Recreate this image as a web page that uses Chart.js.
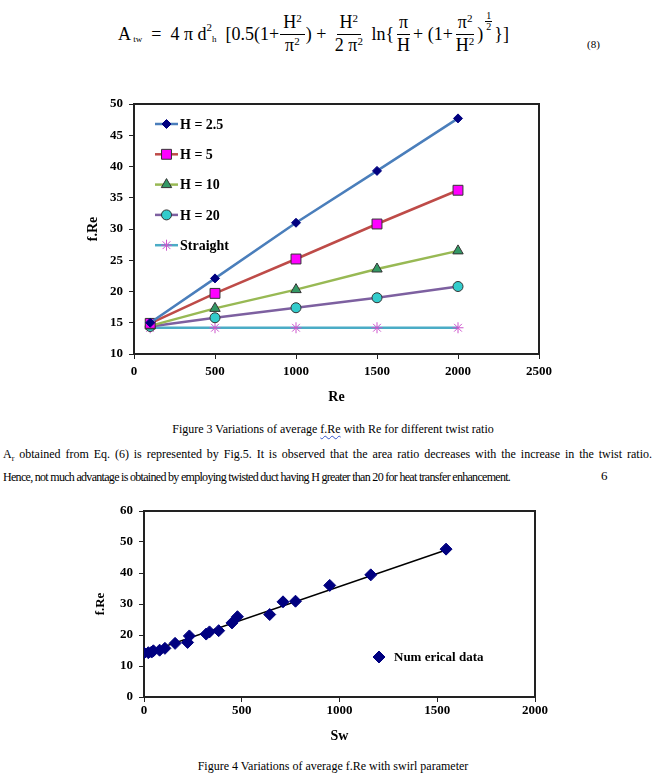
<!DOCTYPE html>
<html>
<head>
<meta charset="utf-8">
<script src="https://cdn.jsdelivr.net/npm/chart.js"></script>
<style>
  html, body { margin: 0; padding: 0; background: #fff; }
  body { width: 654px; height: 781px; position: relative; overflow: hidden;
         font-family: "Liberation Serif", "Times New Roman", serif; color: #000; }
  .abs { position: absolute; }

  /* equation (8) */
  #eq { left: 118px; top: 8px; height: 52px; display: flex; align-items: center;
        font-size: 18px; white-space: pre; }
  .frac { display: inline-flex; flex-direction: column; align-items: center; line-height: 1.1; margin: 0 1px; }
  .frac .num { border-bottom: 1px solid #000; padding: 0 3px 1px; }
  .frac .den { padding: 1px 3px 0; }
  .frac.tight .num, .frac.tight .den { padding-left: 2px; padding-right: 2px; }
  .sup { font-size: 11px; position: relative; top: -7px; }
  .sub { font-size: 9px; position: relative; top: 5px; }
  .half { display: inline-flex; flex-direction: column; align-items: center; font-size: 10px;
          line-height: 1; position: relative; top: -13px; margin: 0 2px; }
  .half .num { border-bottom: 1px solid #000; padding: 0 1px; }
  #eqno { left: 587px; top: 38px; font-size: 11px; }

  .caption { font-size: 12px; white-space: nowrap; }
  #cap3 { left: 0; width: 666px; text-align: center; top: 422px; }
  #cap4 { left: 0; width: 666px; text-align: center; top: 759px; }
  .wavy { text-decoration: underline wavy #3355cc; text-decoration-thickness: 1px; text-underline-offset: 2px; }

  #para { left: 3px; top: 445px; width: 649px; font-size: 12px; line-height: 18px; }
  #para .l1 { text-align: justify; text-align-last: justify; white-space: nowrap; letter-spacing: 0; }
  #para .l2 { letter-spacing: -0.7px; white-space: nowrap; }
  #pageno { left: 601px; top: 468px; font-size: 13px; color: #000; }

  canvas { position: absolute; left: 0; }
  #fig3 { top: 90px; }
  #fig4 { top: 495px; }
</style>
</head>
<body>

<div id="eq" class="abs"><span>A</span><span class="sub"> tw</span><span>  =  4 π d</span><span class="sup">2</span><span class="sub">h</span><span>  [0.5(1+</span><span class="frac"><span class="num">H<span class="sup" style="top:-6px">2</span></span><span class="den">π<span class="sup" style="top:-6px">2</span></span></span><span>) + </span><span class="frac"><span class="num">H<span class="sup" style="top:-6px">2</span></span><span class="den">2 π<span class="sup" style="top:-6px">2</span></span></span><span> ln{</span><span class="frac tight"><span class="num">π</span><span class="den">H</span></span><span>+ (1+</span><span class="frac tight"><span class="num">π<span class="sup" style="top:-6px">2</span></span><span class="den">H<span class="sup" style="top:-6px">2</span></span></span><span>)</span><span class="half"><span class="num">1</span><span>2</span></span><span>}]</span></div>
<div id="eqno" class="abs">(8)</div>

<canvas id="fig3" width="654" height="330"></canvas>

<div id="cap3" class="abs caption">Figure 3 Variations of average <span class="wavy">f.Re</span> with Re for different twist ratio</div>

<div id="para" class="abs">
  <div class="l1">A<sub style="font-size:8px">r</sub> obtained from Eq. (6) is represented by Fig.5. It is observed that the area ratio decreases with the increase in the twist ratio.</div>
  <div class="l2">Hence, not much advantage is obtained by employing twisted duct having H greater than 20 for heat transfer enhancement.</div>
</div>
<div id="pageno" class="abs">6</div>

<canvas id="fig4" width="654" height="255"></canvas>

<div id="cap4" class="abs caption">Figure 4 Variations of average f.Re with swirl parameter</div>

<script>
// ===== Figure 3 data : f.Re vs Re =====
const reValues = [100, 500, 1000, 1500, 2000];
const fReH25 = [15.0, 22.1, 31.0, 39.3, 47.7];
const fReH5 = [14.9, 19.7, 25.2, 30.8, 36.2];
const fReH10 = [14.5, 17.3, 20.3, 23.6, 26.5];
const fReH20 = [14.4, 15.8, 17.4, 19.0, 20.8];
const fReStraight = [14.2, 14.2, 14.2, 14.2, 14.2];
const fig3Names = ["H = 2.5", "H = 5", "H = 10", "H = 20", "Straight"];
const reTicks = [0, 500, 1000, 1500, 2000, 2500];
const fRe3Ticks = [10, 15, 20, 25, 30, 35, 40, 45, 50];

// ===== Figure 4 data : f.Re vs swirl parameter =====
const swValues = [0, 22, 39, 48, 80, 107, 159, 223, 232, 318, 335, 382, 450, 478, 643, 711, 775, 950, 1160, 1545];
const swFRe = [14.2, 14.3, 14.5, 14.9, 15.1, 15.7, 17.3, 17.6, 19.7, 20.3, 21.0, 21.4, 23.9, 25.9, 26.6, 30.7, 30.9, 36.0, 39.4, 47.7];
const fitSw = [0, 1545];
const fitFRe = [14.0, 47.4];
const swTicks = [0, 500, 1000, 1500, 2000];
const fRe4Ticks = [0, 10, 20, 30, 40, 50, 60];
const fig4Names = ["Num erical data", "fit"];

Chart.defaults.font.family = "'Liberation Serif', 'Times New Roman', serif";
Chart.defaults.color = "#000";

const toXY = (xs, ys) => xs.map((x, i) => ({ x: x, y: ys[i] }));
const range = t => ({ min: t[0], max: t[t.length - 1] });

// box around the plot area (top + right edges)
const frame = {
  id: "frame",
  beforeDatasetsDraw(chart) {
    const a = chart.chartArea, ctx = chart.ctx;
    ctx.save();
    ctx.strokeStyle = "#222";
    ctx.lineWidth = 2;
    ctx.strokeRect(a.left, a.top, a.right - a.left, a.bottom - a.top);
    ctx.restore();
  }
};

// legend drawn inside the plot area, like the Excel original
const insideLegend = {
  id: "insideLegend",
  afterDatasetsDraw(chart, args, o) {
    const ctx = chart.ctx, a = chart.chartArea;
    ctx.save();
    let row = 0;
    chart.data.datasets.forEach(ds => {
      if (ds.noLegend) return;
      const y = a.top + o.top + row * o.gap;
      const x0 = a.left + o.left;
      if (o.lineLen > 0) {
        ctx.strokeStyle = ds.borderColor;
        ctx.lineWidth = ds.borderWidth;
        ctx.beginPath(); ctx.moveTo(x0, y); ctx.lineTo(x0 + o.lineLen, y); ctx.stroke();
      }
      ctx.fillStyle = ds.pointBackgroundColor;
      ctx.strokeStyle = ds.pointBorderColor;
      ctx.lineWidth = ds.pointBorderWidth;
      const pOpts = { pointStyle: ds.pointStyle, radius: ds.pointRadius, rotation: 0, borderWidth: ds.pointBorderWidth };
      if (Chart.helpers && Chart.helpers.drawPoint) {
        Chart.helpers.drawPoint(ctx, pOpts, x0 + o.lineLen / 2, y);
      } else {
        ctx.beginPath(); ctx.arc(x0 + o.lineLen / 2, y, ds.pointRadius, 0, Math.PI * 2); ctx.fill();
      }
      ctx.fillStyle = "#000";
      ctx.font = "bold " + o.fontSize + "px 'Liberation Serif', 'Times New Roman', serif";
      ctx.textBaseline = "middle";
      ctx.fillText(ds.label, x0 + o.lineLen + o.textGap, y + 1);
      row++;
    });
    ctx.restore();
  }
};

const tickFont = { size: 13, weight: "bold" };
const plainNumber = v => String(v);
function axisStyle() {
  return {
    grid: { drawOnChartArea: false, drawTicks: true, tickLength: 5, color: "#222" },
    border: { display: true, color: "#222", width: 2 }
  };
}

// ===============================
// Figure 3
// ===============================
function lineSet(name, ys, color, style, fill, edge, r) {
  return {
    label: name,
    data: toXY(reValues, ys),
    borderColor: color,
    borderWidth: 2.5,
    pointStyle: style,
    pointRadius: r,
    pointBackgroundColor: fill,
    pointBorderColor: edge,
    pointBorderWidth: 1,
    showLine: true,
    tension: 0
  };
}

new Chart(document.getElementById("fig3"), {
  type: "scatter",
  data: {
    datasets: [
      lineSet(fig3Names[0], fReH25, "#4a7ebb", "rectRot", "#000080", "#000080", 4.5),
      lineSet(fig3Names[1], fReH5, "#be4b48", "rect", "#ff00ff", "#333", 7),
      lineSet(fig3Names[2], fReH10, "#98b954", "triangle", "#339966", "#333", 6),
      lineSet(fig3Names[3], fReH20, "#7d60a0", "circle", "#33cccc", "#333", 5),
      lineSet(fig3Names[4], fReStraight, "#4bacc6", "star", "#cc55cc", "#cc55cc", 5.5)
    ]
  },
  options: {
    responsive: false,
    animation: false,
    devicePixelRatio: 1,
    layout: { padding: { top: 14, right: 115, left: 0, bottom: 0 } },
    plugins: {
      legend: { display: false },
      tooltip: { enabled: false },
      insideLegend: { left: 21, top: 20, gap: 30.3, lineLen: 23, textGap: 2, fontSize: 14 }
    },
    scales: {
      x: Object.assign(axisStyle(), {
        type: "linear", ...range(reTicks),
        ticks: { stepSize: reTicks[1] - reTicks[0], font: tickFont, padding: 5, callback: plainNumber },
        title: { display: true, text: "Re", font: { size: 14, weight: "bold" }, padding: { top: 0, bottom: 14 } },
        afterFit: s => { s.height = 66; }
      }),
      y: Object.assign(axisStyle(), {
        type: "linear", ...range(fRe3Ticks),
        ticks: { stepSize: fRe3Ticks[1] - fRe3Ticks[0], font: tickFont, padding: 6, callback: plainNumber },
        title: { display: true, text: "f.Re", font: { size: 14, weight: "bold" }, padding: { top: 85, bottom: 0 } },
        afterFit: s => { s.width = 134; }
      })
    }
  },
  plugins: [frame, insideLegend]
});

// ===============================
// Figure 4
// ===============================
new Chart(document.getElementById("fig4"), {
  type: "scatter",
  data: {
    datasets: [
      {
        label: fig4Names[0],
        data: toXY(swValues, swFRe),
        pointStyle: "rectRot",
        pointRadius: 6,
        pointBackgroundColor: "#000080",
        pointBorderColor: "#000080",
        pointBorderWidth: 1,
        borderColor: "#000080",
        borderWidth: 0,
        showLine: false
      },
      {
        label: fig4Names[1],
        data: toXY(fitSw, fitFRe),
        borderColor: "#000",
        borderWidth: 1.5,
        pointRadius: 0,
        showLine: true,
        noLegend: true
      }
    ]
  },
  options: {
    responsive: false,
    animation: false,
    devicePixelRatio: 1,
    layout: { padding: { top: 16, right: 119, left: 0, bottom: 0 } },
    plugins: {
      legend: { display: false },
      tooltip: { enabled: false },
      insideLegend: { left: 235, top: 146, gap: 30, lineLen: 0, textGap: 15, fontSize: 13 }
    },
    scales: {
      x: Object.assign(axisStyle(), {
        type: "linear", ...range(swTicks),
        ticks: { stepSize: swTicks[1] - swTicks[0], font: tickFont, padding: 1, callback: plainNumber },
        title: { display: true, text: "Sw", font: { size: 14, weight: "bold" }, padding: { top: 0, bottom: 5 } },
        afterFit: s => { s.height = 53; }
      }),
      y: Object.assign(axisStyle(), {
        type: "linear", ...range(fRe4Ticks),
        ticks: { stepSize: fRe4Ticks[1] - fRe4Ticks[0], font: tickFont, padding: 6, callback: plainNumber },
        title: { display: true, text: "f.Re", font: { size: 13, weight: "bold" }, padding: { top: 93, bottom: 0 } },
        afterFit: s => { s.width = 144; }
      })
    }
  },
  plugins: [frame, insideLegend]
});
</script>
</body>
</html>
